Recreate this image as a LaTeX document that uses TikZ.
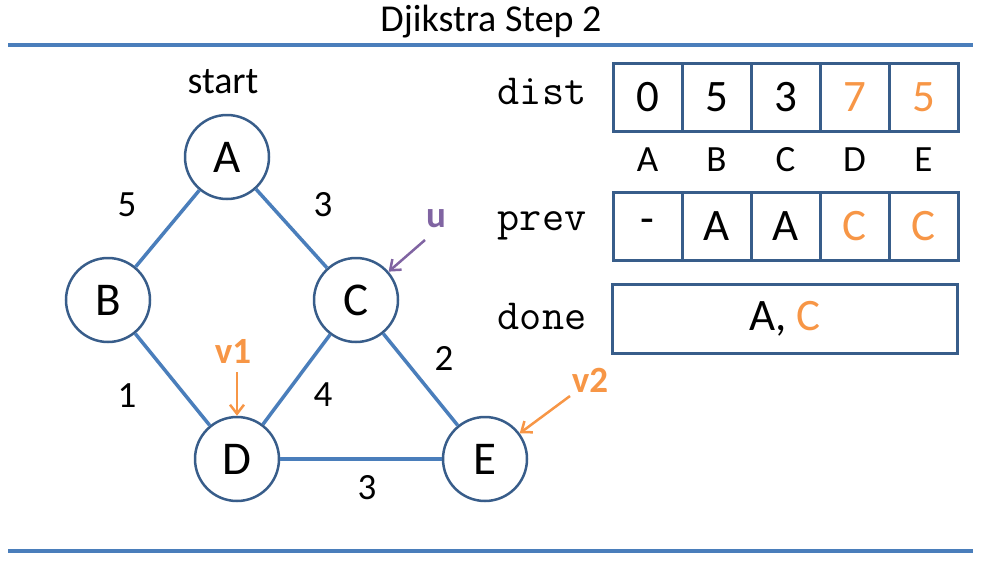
\documentclass[tikz,border=0pt]{standalone}
\usepackage{fontspec}
\setmainfont{Carlito}
\usetikzlibrary{arrows.meta}

\definecolor{edgeblue}{RGB}{74,126,187}
\definecolor{ringblue}{RGB}{56,93,138}
\definecolor{hiorange}{RGB}{247,150,70}
\definecolor{upurple}{RGB}{128,100,162}

\tikzset{
  vertex/.style={circle, draw=ringblue, line width=2.5pt, fill=white,
    minimum size=84pt, inner sep=0pt, font=\fontsize{47}{47}\selectfont},
  edge/.style={edgeblue, line width=3.5pt},
  weight/.style={font=\fontsize{37}{37}\selectfont},
  cell/.style={draw=ringblue, line width=3pt, minimum width=69pt,
    minimum height=68pt, inner sep=0pt, font=\fontsize{45}{45}\selectfont},
  rowname/.style={font=\ttfamily\fontsize{43}{43}\selectfont},
  pointer/.style={line width=2.5pt, -{Straight Barb[length=9pt,width=14pt]}},
  tag/.style={font=\bfseries\fontsize{37}{37}\selectfont}
}

\begin{document}
\begin{tikzpicture}[x=1pt, y=-1pt]

\useasboundingbox (0,0) rectangle (983,568);

\node (title) at (491,22) {\fontsize{38}{38}\selectfont Djikstra Step 2};
\coordinate (topL) at (8,45);
\coordinate (topR) at (973,45);
\coordinate (botL) at (8,551);
\coordinate (botR) at (973,551);
\draw [edgeblue, line width=4pt] (topL) -- (topR);
\draw [edgeblue, line width=4pt] (botL) -- (botR);

% graph
\node (start) at (223,82) {\fontsize{38}{38}\selectfont start};

\node [vertex] (A) at (227,157) {A};
\node [vertex] (B) at (108,300) {B};
\node [vertex] (C) at (356,300) {C};
\node [vertex] (D) at (237,459) {D};
\node [vertex] (E) at (485,459) {E};

\draw [edge] (A) -- (B);
\draw [edge] (A) -- (C);
\draw [edge] (B) -- (D);
\draw [edge] (C) -- (D);
\draw [edge] (C) -- (E);
\draw [edge] (D) -- (E);

\node [weight] (wAB) at (127,205) {5};
\node [weight] (wAC) at (323,205) {3};
\node [weight] (wBD) at (127,396) {1};
\node [weight] (wCD) at (323,395) {4};
\node [weight] (wCE) at (444,358) {2};
\node [weight] (wDE) at (367,488) {3};

% pointers
\node [tag, upurple] (u) at (436,219) {u};
\coordinate (utail) at (425,240);
\draw [pointer, upurple] (utail) -- (C);

\node [tag, hiorange] (v1) at (233,351) {v1};
\coordinate (v1tail) at (237,372);
\draw [pointer, hiorange] (v1tail) -- (D);

\node [tag, hiorange] (v2) at (590,380) {v2};
\coordinate (v2tail) at (570,396);
\draw [pointer, hiorange] (v2tail) -- (E);

% tables
\node [rowname] (dist) at (542,91) {dist};
\node [rowname] (prev) at (542,226) {prev};
\node [rowname] (done) at (542,316) {done};

\foreach \v/\c [count=\i from 0] in {0/black, 5/black, 3/black, 7/hiorange, 5/hiorange}
  \node [cell, text=\c] (d\i) at (647.5+69*\i,97) {\v};

\foreach \n [count=\i from 0] in {A, B, C, D, E}
  \node [font=\fontsize{37}{37}\selectfont] (col\i) at (647.5+69*\i,160) {\n};

\foreach \v/\c [count=\i from 0] in {-/black, A/black, A/black, C/hiorange, C/hiorange}
  \node [cell, text=\c] (p\i) at (647.5+69*\i,226.5) {\v};

\node [cell, minimum width=345pt, minimum height=69pt] (donebox) at (785,318.5)
  {A, \textcolor{hiorange}{C}};

\end{tikzpicture}
\end{document}
